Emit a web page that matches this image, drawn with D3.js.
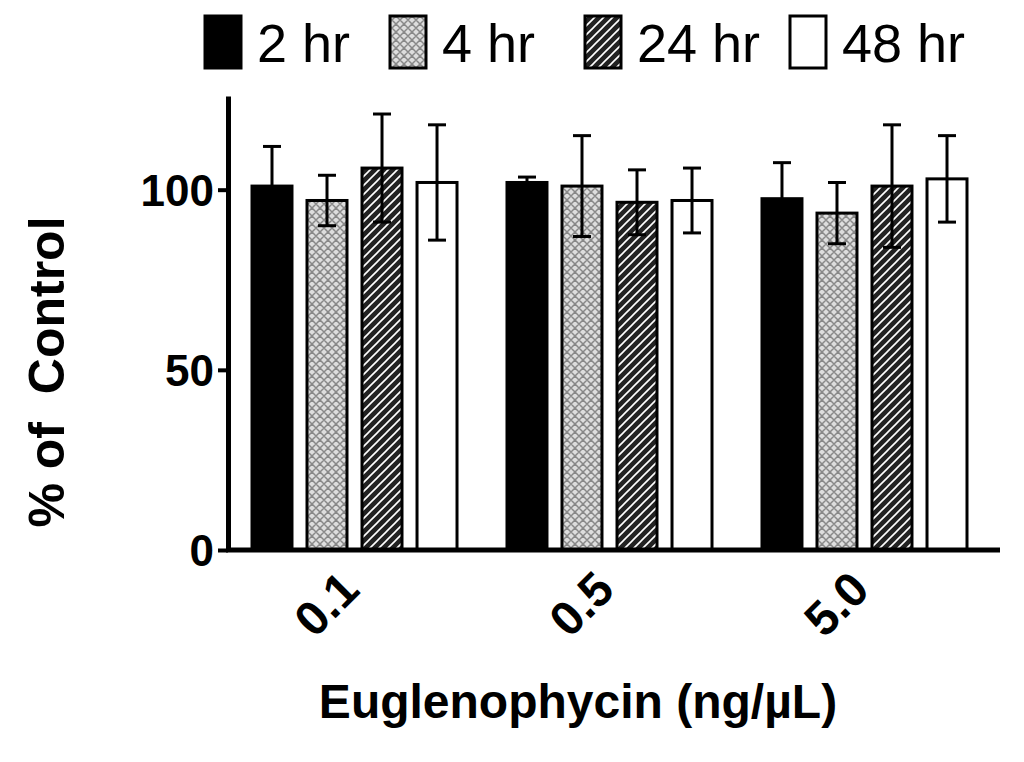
<!DOCTYPE html>
<html><head><meta charset="utf-8">
<script src="https://cdn.jsdelivr.net/npm/d3@7"></script>
<style>body{margin:0;background:#fff}</style></head>
<body><svg id="chart" width="1024" height="762"></svg>
<script>
const doses = ["0.1", "0.5", "5.0"];
const series = ["2 hr", "4 hr", "24 hr", "48 hr"];
const means = [[101, 97, 106, 102], [102, 101, 96.5, 97], [97.5, 93.5, 101, 103]];
const errs = [[11, 7, 15, 16], [1.5, 14, 9, 9], [10, 8.5, 17, 12]];
const yTicks = [0, 50, 100];

const svg = d3.select("#chart");
const defs = svg.append("defs");
const cross = defs.append("pattern").attr("id", "cross").attr("patternUnits", "userSpaceOnUse")
  .attr("width", 8).attr("height", 8);
cross.append("rect").attr("width", 8).attr("height", 8).attr("fill", "#ddd");
cross.append("path").attr("d", "M0,4L4,0L8,4L4,8Z").attr("fill", "none").attr("stroke", "#888").attr("stroke-width", 1.5);
const hatch = defs.append("pattern").attr("id", "hatch").attr("patternUnits", "userSpaceOnUse")
  .attr("width", 9).attr("height", 9);
hatch.append("rect").attr("width", 9).attr("height", 9).attr("fill", "#222");
hatch.append("path").attr("d", "M-2,11L11,-2M-2,2L2,-2M7,11L11,7").attr("stroke", "#fff").attr("stroke-width", 1.6);
const fills = ["#000", "url(#cross)", "url(#hatch)", "#fff"];

const x0 = d3.scaleBand().domain(doses).range([252, 967]).paddingInner(0.196).paddingOuter(0);
const x1 = d3.scaleBand().domain(series).range([0, x0.bandwidth()]).paddingInner(0.273);
const y = d3.scaleLinear().domain([0, 126]).range([550, 96]);

// axes
const yAxis = svg.append("g").attr("transform", "translate(228,0)")
  .call(d3.axisLeft(y).tickValues(yTicks).tickSize(10).tickSizeOuter(0));
yAxis.select(".domain").attr("stroke-width", 5);
yAxis.selectAll(".tick line").attr("stroke-width", 4);
yAxis.selectAll("text").attr("font-family", "Liberation Sans, Arial").attr("font-weight", "bold")
  .attr("font-size", 44).attr("dy", "0.35em").attr("x", -14);

const g = svg.selectAll(".grp").data(means).enter().append("g")
  .attr("transform", (d, i) => `translate(${x0(doses[i])},0)`);
g.each(function (vals, gi) {
  const sel = d3.select(this);
  vals.forEach((v, si) => {
    const cx = x1(series[si]) + x1.bandwidth() / 2;
    const e = errs[gi][si];
    sel.append("rect").attr("x", x1(series[si])).attr("width", x1.bandwidth())
      .attr("y", y(v)).attr("height", y(0) - y(v))
      .attr("fill", fills[si]).attr("stroke", "#000").attr("stroke-width", 3);
    sel.append("line").attr("x1", cx).attr("x2", cx).attr("y1", y(v + e)).attr("y2", y(v - e))
      .attr("stroke", "#000").attr("stroke-width", 3);
    [v + e, v - e].forEach(t => sel.append("line").attr("x1", cx - 9).attr("x2", cx + 9)
      .attr("y1", y(t)).attr("y2", y(t)).attr("stroke", "#000").attr("stroke-width", 3));
  });
});

const xAxis = svg.append("g").attr("transform", "translate(0,550)")
  .call(d3.axisBottom(x0).tickSize(0).tickSizeOuter(0));
xAxis.select(".domain").attr("d", "M226,0H1000").attr("stroke-width", 5);
xAxis.selectAll("text").attr("font-family", "Liberation Sans, Arial").attr("font-weight", "bold")
  .attr("font-size", 48).attr("text-anchor", "end").attr("dy", 0)
  .attr("transform", "translate(5,40) rotate(-45)");

svg.append("text").attr("x", 578).attr("y", 718).attr("text-anchor", "middle")
  .attr("font-family", "Liberation Sans, Arial").attr("font-weight", "bold").attr("font-size", 48)
  .text("Euglenophycin (ng/µL)");
svg.append("text").attr("transform", "translate(64,372) rotate(-90)").attr("text-anchor", "middle")
  .attr("font-family", "Liberation Sans, Arial").attr("font-weight", "bold").attr("font-size", 50)
  .attr("xml:space", "preserve").text("% of  Control");

// legend
const legX = [205, 390, 585, 790];
series.forEach((s, i) => {
  svg.append("rect").attr("x", legX[i]).attr("y", 16).attr("width", 36).attr("height", 52)
    .attr("fill", fills[i]).attr("stroke", "#000").attr("stroke-width", 3);
  svg.append("text").attr("x", legX[i] + 52).attr("y", 62).attr("font-family", "Liberation Sans, Arial")
    .attr("font-size", 54).text(s);
});
</script></body></html>
